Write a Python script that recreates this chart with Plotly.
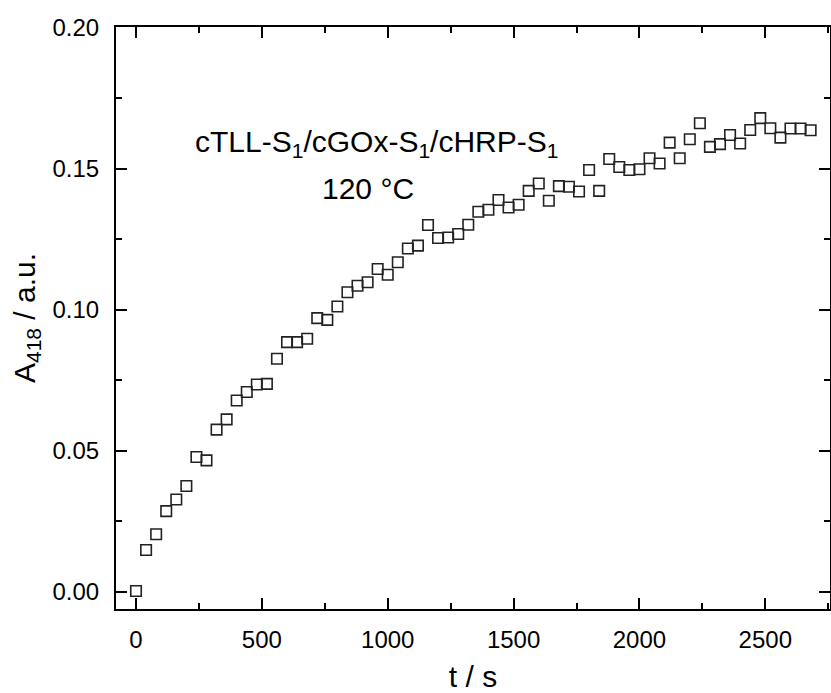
import plotly.graph_objects as go

t_s = [0, 40, 80, 120, 160, 200, 240, 280, 320, 360, 400, 440, 480, 520, 560, 600, 640, 680,
       720, 760, 800, 840, 880, 920, 960, 1000, 1040, 1080, 1120, 1160, 1200, 1240, 1280, 1320,
       1360, 1400, 1440, 1480, 1520, 1560, 1600, 1640, 1680, 1720, 1760, 1800, 1840, 1880, 1920,
       1960, 2000, 2040, 2080, 2120, 2160, 2200, 2240, 2280, 2320, 2360, 2400, 2440, 2480, 2520,
       2560, 2600, 2640, 2680]
a418 = [0.0003, 0.0148, 0.0204, 0.0286, 0.0327, 0.0375, 0.0478, 0.0466, 0.0575, 0.0611, 0.0678,
        0.0708, 0.0735, 0.0737, 0.0826, 0.0885, 0.0885, 0.0897, 0.0970, 0.0964, 0.1011, 0.1062,
        0.1085, 0.1097, 0.1144, 0.1124, 0.1168, 0.1217, 0.1227, 0.1300, 0.1254, 0.1256, 0.1268,
        0.1301, 0.1347, 0.1354, 0.1389, 0.1362, 0.1372, 0.1421, 0.1447, 0.1386, 0.1438, 0.1436,
        0.1419, 0.1495, 0.1421, 0.1534, 0.1506, 0.1495, 0.1498, 0.1537, 0.1518, 0.1592, 0.1537,
        0.1604, 0.1661, 0.1577, 0.1587, 0.1619, 0.1589, 0.1637, 0.1679, 0.1643, 0.1610, 0.1642,
        0.1642, 0.1636]

x_ticks = [0, 500, 1000, 1500, 2000, 2500]
y_ticks = [0.00, 0.05, 0.10, 0.15, 0.20]
y_tick_text = ["0.00", "0.05", "0.10", "0.15", "0.20"]

fig = go.Figure()
fig.add_trace(go.Scatter(
    x=t_s, y=a418, mode="markers",
    marker=dict(symbol="square-open", size=10.5, color="#222222", line=dict(width=1.6, color="#222222")),
    showlegend=False,
))

axis_common = dict(
    showline=True, linecolor="black", linewidth=2, mirror="allticks",
    ticks="inside", ticklen=11, tickwidth=2, tickcolor="black",
    showgrid=False, zeroline=False,
    tickfont=dict(family="Arial, Liberation Sans", size=24, color="black"),
)

title_font = dict(family="Arial, Liberation Sans", size=30, color="black")

fig.update_xaxes(
    **axis_common,
    range=[-79.5, 2757],
    tickvals=x_ticks,
    ticklabelstandoff=8,
    minor=dict(dtick=250, tick0=0, ticks="inside", ticklen=6, tickwidth=2, tickcolor="black"),
    title=dict(text="t / s", font=title_font, standoff=17),
)
fig.update_yaxes(
    **axis_common,
    range=[-0.0061, 0.2002],
    tickvals=y_ticks, ticktext=y_tick_text,
    ticklabelstandoff=10,
    minor=dict(dtick=0.025, tick0=0, ticks="inside", ticklen=6, tickwidth=2, tickcolor="black"),
    title=dict(text="A<sub>418</sub> / a.u.", font=title_font, standoff=8),
)

ann_font = dict(family="Arial, Liberation Sans", size=30, color="black")
fig.add_annotation(x=957, y=0.1588, xref="x", yref="y", text="cTLL-S<sub>1</sub>/cGOx-S<sub>1</sub>/cHRP-S<sub>1</sub>",
                   showarrow=False, font=ann_font)
fig.add_annotation(x=922, y=0.1429, xref="x", yref="y", text="120 °C", showarrow=False, font=ann_font)

fig.update_layout(
    width=831, height=693,
    margin=dict(l=116, r=1, t=27, b=84, autoexpand=False),
    paper_bgcolor="white", plot_bgcolor="white",
)

fig.write_html("out.html", config={"displayModeBar": False},
               post_script="document.body.style.margin='0';document.body.style.padding='0';document.body.style.overflow='hidden';")
